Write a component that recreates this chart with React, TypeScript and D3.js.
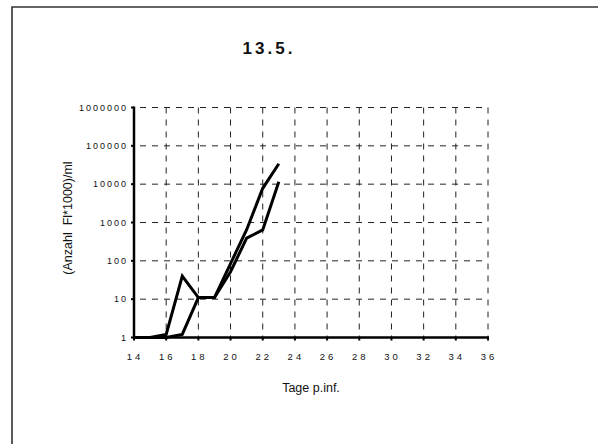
import React from "react";
import * as d3 from "d3";

// Days post infection and counts (Anzahl Fl*1000 per ml) for two samples
const days = [14, 15, 16, 17, 18, 19, 20, 21, 22, 23];
const seriesA = [1, 1, 1.2, 40, 11, 11, 85, 650, 7800, 34000];
const seriesB = [1, 1, 1, 1.2, 11, 11, 52, 390, 640, 11500];

const xTicks = [14, 16, 18, 20, 22, 24, 26, 28, 30, 32, 34, 36];
const yTicks = [1, 10, 100, 1000, 10000, 100000, 1000000];

const title = "13.5.";
const xTitle = "Tage p.inf.";
const yTitle = "(Anzahl  Fl*1000)/ml";

const W = 598;
const H = 444;

export default function App() {
  const x = d3.scaleLinear().domain([14, 36]).range([134, 488]);
  const y = d3.scaleLog().domain([1, 1000000]).range([337.5, 107.5]);

  const line = d3
    .line<[number, number]>()
    .x((d) => x(d[0]))
    .y((d) => y(d[1]));

  const series = [seriesA, seriesB].map((vals) =>
    days.map((d, i) => [d, vals[i]] as [number, number])
  );

  const x0 = x(14);
  const x1 = x(36);
  const y0 = y(1);
  const yTop = y(1000000);
  const font = "Liberation Sans, Arial, Helvetica, sans-serif";

  return (
    <svg
      width={W}
      height={H}
      style={{ position: "absolute", left: 0, top: 0, background: "#fff" }}
      fontFamily={font}
    >
      <rect x={0} y={0} width={W} height={H} fill="#fff" />
      {/* page frame */}
      <path d={`M12,${H + 5} L12,7 L${W + 5},7`} fill="none" stroke="#333" strokeWidth={1.6} />

      <text
        x={269}
        y={54}
        textAnchor="middle"
        fontSize={17}
        fontWeight="bold"
        letterSpacing={3}
        fill="#111"
      >
        {title}
      </text>

      {/* dashed grid */}
      <g stroke="#222" strokeWidth={1} strokeDasharray="6,6">
        {yTicks
          .filter((t) => t > 1)
          .map((t) => (
            <line key={`h${t}`} x1={x0 + 6} x2={x1} y1={y(t)} y2={y(t)} />
          ))}
        {xTicks
          .filter((t) => t > 14)
          .map((t) => (
            <line key={`v${t}`} x1={x(t)} x2={x(t)} y1={yTop} y2={y0} />
          ))}
      </g>

      {/* axes */}
      <line x1={x0} x2={x0} y1={yTop - 1} y2={y0 + 1} stroke="#000" strokeWidth={2.5} />
      <line x1={x0 - 1} x2={x1 + 1} y1={y0} y2={y0} stroke="#000" strokeWidth={2.5} />
      {yTicks.map((t) => (
        <line key={`yt${t}`} x1={x0 - 3} x2={x0} y1={y(t)} y2={y(t)} stroke="#000" strokeWidth={2} />
      ))}
      {xTicks.map((t) => (
        <line key={`xt${t}`} x1={x(t)} x2={x(t)} y1={y0} y2={y0 + 3} stroke="#000" strokeWidth={2} />
      ))}

      {/* tick labels */}
      {yTicks.map((t) => (
        <text
          key={`yl${t}`}
          x={x0 - 6}
          y={y(t) + 3}
          textAnchor="end"
          fontSize={9}
          letterSpacing={2}
          fill="#111"
        >
          {String(t)}
        </text>
      ))}
      {xTicks.map((t) => (
        <text
          key={`xl${t}`}
          x={x(t) + 1}
          y={360}
          textAnchor="middle"
          fontSize={9.5}
          letterSpacing={3}
          fill="#111"
        >
          {String(t)}
        </text>
      ))}

      <text x={311} y={392} textAnchor="middle" fontSize={12.5} fill="#111">
        {xTitle}
      </text>
      <text
        transform={`translate(72,${218}) rotate(-90)`}
        textAnchor="middle"
        fontSize={12.5}
        fill="#111"
        style={{ whiteSpace: "pre" }}
      >
        {yTitle}
      </text>

      {/* data lines */}
      {series.map((s, i) => (
        <path
          key={`s${i}`}
          d={line(s) || ""}
          fill="none"
          stroke="#000"
          strokeWidth={3}
          strokeLinejoin="miter"
        />
      ))}
    </svg>
  );
}
